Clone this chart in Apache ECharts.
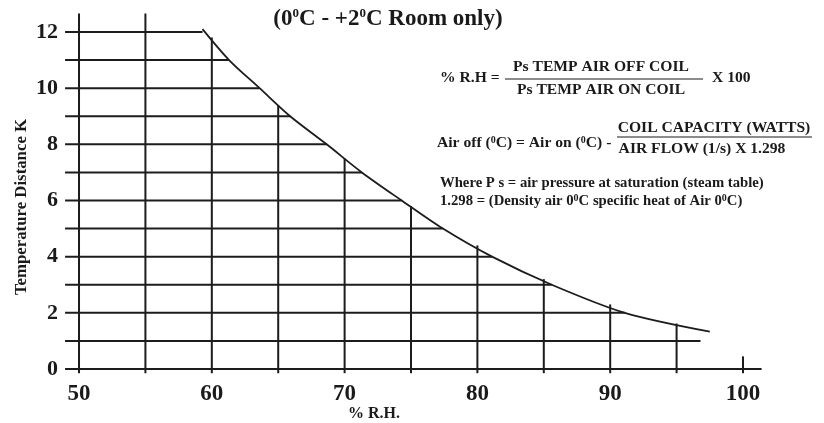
<!DOCTYPE html>
<html>
<head>
<meta charset="utf-8">
<script src="https://cdn.jsdelivr.net/npm/echarts@6/dist/echarts.min.js"></script>
<style>
html, body { margin: 0; padding: 0; background: #fff; }
#chart_show { width: 824px; height: 423px; }
</style>
</head>
<body>
<div id="chart_show"></div>
<script>
// 曲线上的点 (% R.H. , K)
var curveX = [59.3, 61.3, 63.6, 65.9, 68.65, 71.3, 74.3, 77.4, 81.1, 85.6, 91.1, 97.5];
var curveY = [12.1, 11, 10, 9, 8, 7, 6, 5, 4, 3, 2, 1.33];

// 横线: 每个整数K, 从左边到曲线
var hY = [1, 2, 3, 4, 5, 6, 7, 8, 9, 10, 11, 12];
var hEnd = [96.8, 91.1, 85.6, 81.1, 77.4, 74.3, 71.3, 68.65, 65.9, 63.6, 61.3, 59.3];
var hStart = 48.95;

// 竖线: 每5%, 从底部到曲线
var vX = [50, 55, 60, 65, 70, 75, 80, 85, 90, 95];
var vTop = [12.66, 12.66, 11.8, 9.4, 7.5, 5.8, 4.4, 3.2, 2.3, 1.62];
var vBottom = -0.15;

// 底线和100处的刻度
var baseX = [48.95, 101.4];
var tick100X = 100;
var tick100Y = [-0.15, 0.45];

// 刻度标签
var xTicks = [50, 60, 70, 80, 90, 100];
var yTicks = [0, 2, 4, 6, 8, 10, 12];

var lineColor = '#1c1c1c';
var serif = '"Liberation Serif", "Times New Roman", serif';

function seg(data, w) {
    return {
        type: 'line',
        data: data,
        symbol: 'none',
        silent: true,
        clip: false,
        lineStyle: { color: lineColor, width: w || 2 }
    };
}

var series = [];

// 曲线
var curveData = [];
for (var i = 0; i < curveX.length; i++) {
    curveData.push([curveX[i], curveY[i]]);
}
var curve = seg(curveData, 1.8);
curve.smooth = 0.3;
series.push(curve);

// 横线
for (var i = 0; i < hY.length; i++) {
    series.push(seg([[hStart, hY[i]], [hEnd[i], hY[i]]]));
}
// 竖线
for (var i = 0; i < vX.length; i++) {
    series.push(seg([[vX[i], vBottom], [vX[i], vTop[i]]]));
}
// 底线
series.push(seg([[baseX[0], 0], [baseX[1], 0]]));
series.push(seg([[tick100X, tick100Y[0]], [tick100X, tick100Y[1]]]));

var fFormula = 'bold 15.6px ' + serif;
var fNote = 'bold 14.7px ' + serif;
var sup = { fontSize: 10, fontWeight: 'bold', fontFamily: serif, verticalAlign: 'top', lineHeight: 15 };

function txt(x, y, text, font, align, rich) {
    return {
        type: 'text',
        x: x,
        y: y,
        silent: true,
        style: {
            text: text,
            font: font || fFormula,
            fill: '#1a1a1a',
            align: align || 'left',
            verticalAlign: 'middle',
            rich: rich
        }
    };
}

function bar(x1, x2, y) {
    return {
        type: 'line',
        silent: true,
        shape: { x1: x1, y1: y, x2: x2, y2: y },
        style: { stroke: '#1a1a1a', lineWidth: 1.2 }
    };
}

var myChart = echarts.init(document.getElementById('chart_show'));

option = {
    animation: false,
    backgroundColor: '#fff',
    grid: { left: 59.1, right: 27.9, top: 3.9, bottom: 39.96 },
    xAxis: {
        type: 'value',
        min: 48.5,
        max: 104,
        axisLine: { show: false },
        axisTick: { show: false },
        splitLine: { show: false },
        axisLabel: {
            customValues: xTicks,
            margin: 0,
            color: '#1a1a1a',
            fontFamily: serif,
            fontWeight: 'bold',
            fontSize: 23
        }
    },
    yAxis: {
        type: 'value',
        min: -0.5,
        max: 13,
        axisLine: { show: false },
        axisTick: { show: false },
        splitLine: { show: false },
        axisLabel: {
            customValues: yTicks,
            margin: 1,
            color: '#1a1a1a',
            fontFamily: serif,
            fontWeight: 'bold',
            fontSize: 22
        }
    },
    graphic: [
        // 标题
        txt(388, 19, '(0{s|0}C - +2{s|0}C Room only)', 'bold 23px ' + serif, 'center',
            { s: { fontSize: 13, fontWeight: 'bold', fontFamily: serif, verticalAlign: 'top', lineHeight: 23 } }),
        // 轴标题
        {
            type: 'text',
            x: 22,
            y: 207,
            rotation: Math.PI / 2,
            silent: true,
            style: {
                text: 'Temperature Distance K',
                font: 'bold 16.8px ' + serif,
                fill: '#1a1a1a',
                align: 'center',
                verticalAlign: 'middle'
            }
        },
        txt(374, 414, '% R.H.', 'bold 16px ' + serif, 'center'),
        // 公式1
        txt(440, 78, '% R.H = '),
        txt(601, 67, 'Ps TEMP AIR OFF COIL', fFormula, 'center'),
        bar(505, 703, 79),
        txt(601, 90, 'Ps TEMP AIR ON COIL', fFormula, 'center'),
        txt(712, 78, 'X 100'),
        // 公式2
        txt(437, 143, 'Air off ({s|0}C) = Air on ({s|0}C) - ', fFormula, 'left', { s: sup }),
        txt(714, 128, 'COIL CAPACITY (WATTS)', fFormula, 'center'),
        bar(617, 812, 137),
        txt(702, 149, 'AIR FLOW (1/s) X 1.298', fFormula, 'center'),
        // 说明
        txt(440, 183, 'Where P s = air pressure at saturation (steam table)', fNote),
        txt(440, 201, '1.298 = (Density air 0{s|0}C specific heat of Air 0{s|0}C)', fNote, 'left', { s: sup })
    ],
    series: series
};

myChart.setOption(option);
</script>
</body>
</html>
